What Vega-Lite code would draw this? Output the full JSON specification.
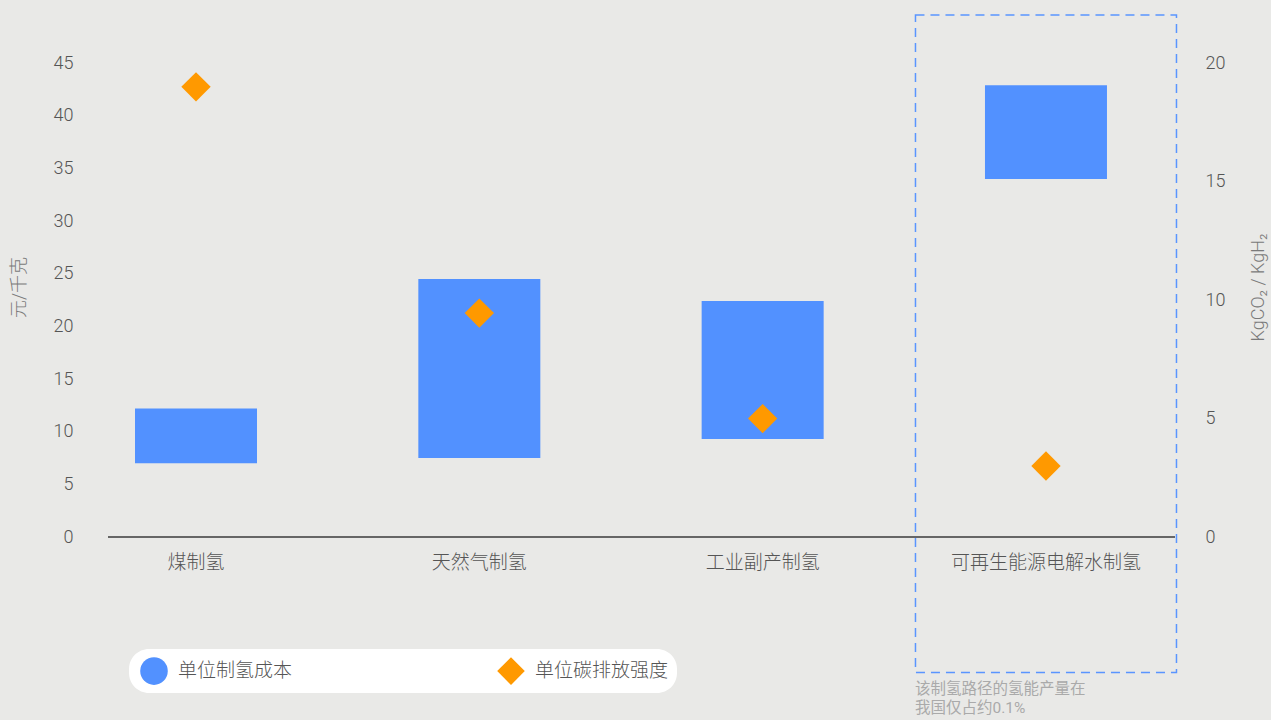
{
  "$schema": "https://vega.github.io/schema/vega-lite/v6.json",
  "width": 1067,
  "height": 705,
  "autosize": "none",
  "padding": {"left": 108, "top": 15, "right": 96, "bottom": 0},
  "background": "#e9e9e7",
  "config": {
    "view": {"stroke": null},
    "font": "Roboto, Noto Sans CJK SC",
    "axis": {"grid": false, "ticks": false, "domain": false},
    "legend": {
      "orient": "none",
      "legendX": 21,
      "legendY": 634,
      "direction": "horizontal",
      "fillColor": "#ffffff",
      "cornerRadius": 20,
      "padding": 8,
      "symbolSize": 760,
      "symbolOffset": 3,
      "symbolOpacity": 1,
      "symbolStrokeWidth": 0,
      "labelOffset": 10,
      "labelFontSize": 19,
      "labelFontWeight": 300,
      "labelColor": "#555555",
      "columnPadding": 201
    }
  },
  "datasets": {
    "cost": [
      {"category": "煤制氢", "low": 7.0, "high": 12.2, "series": "单位制氢成本"},
      {"category": "天然气制氢", "low": 7.5, "high": 24.5, "series": "单位制氢成本"},
      {"category": "工业副产制氢", "low": 9.3, "high": 22.4, "series": "单位制氢成本"},
      {"category": "可再生能源电解水制氢", "low": 34.0, "high": 42.9, "series": "单位制氢成本"}
    ],
    "carbon": [
      {"category": "煤制氢", "value": 19.0, "series": "单位碳排放强度"},
      {"category": "天然气制氢", "value": 9.45, "series": "单位碳排放强度"},
      {"category": "工业副产制氢", "value": 5.0, "series": "单位碳排放强度"},
      {"category": "可再生能源电解水制氢", "value": 3.0, "series": "单位碳排放强度"}
    ],
    "cats": [
      {"category": "煤制氢"},
      {"category": "天然气制氢"},
      {"category": "工业副产制氢"},
      {"category": "可再生能源电解水制氢"}
    ],
    "note": [
      {"category": "可再生能源电解水制氢", "text": ["该制氢路径的氢能产量在", "我国仅占约0.1%"]}
    ]
  },
  "layer": [
    {
      "data": {"name": "cats"},
      "mark": {"type": "rule", "color": "#666666", "strokeWidth": 1.5},
      "encoding": {
        "y": {
          "datum": 0,
          "type": "quantitative",
          "scale": {"domain": [-17.37, 49.56], "nice": false, "zero": false},
          "axis": {
            "orient": "left",
            "values": [0, 5, 10, 15, 20, 25, 30, 35, 40, 45],
            "labelFontSize": 18,
            "labelFontWeight": 300,
            "labelColor": "#555555",
            "labelPadding": 35,
            "title": "元/千克",
            "titleFontSize": 18,
            "titleFontWeight": 300,
            "titleColor": "#7a7a7a",
            "titleAngle": -90,
            "titleBaseline": "middle",
            "titleAlign": "center",
            "titleX": -89,
            "titleY": 272
          }
        }
      }
    },
    {
      "data": {"name": "note"},
      "mark": {"type": "bar", "size": 261, "fillOpacity": 0, "stroke": "#5a95ff", "strokeWidth": 1.5, "strokeDash": [9, 6]},
      "encoding": {
        "x": {
          "field": "category",
          "type": "nominal",
          "scale": {"type": "point", "domain": ["煤制氢", "天然气制氢", "工业副产制氢", "可再生能源电解水制氢"], "padding": 0.383, "align": 0.4055},
          "axis": null
        },
        "y": {"datum": -12.86, "type": "quantitative", "scale": {"domain": [-17.37, 49.56], "nice": false, "zero": false}, "axis": null},
        "y2": {"datum": 49.56}
      }
    },
    {
      "data": {"name": "cost"},
      "mark": {"type": "bar", "size": 122},
      "encoding": {
        "x": {"field": "category", "type": "nominal", "axis": null},
        "y": {"field": "low", "type": "quantitative", "scale": {"domain": [-17.37, 49.56], "nice": false, "zero": false}, "axis": null},
        "y2": {"field": "high"},
        "color": {
          "field": "series",
          "type": "nominal",
          "scale": {"domain": ["单位制氢成本", "单位碳排放强度"], "range": ["#5291ff", "#ff9900"]},
          "legend": {"title": null}
        }
      }
    },
    {
      "data": {"name": "cats"},
      "mark": {"type": "text", "fontSize": 19, "fontWeight": 300, "color": "#555555", "baseline": "middle", "align": "center"},
      "encoding": {
        "x": {"field": "category", "type": "nominal", "axis": null},
        "y": {"datum": -2.47, "type": "quantitative", "scale": {"domain": [-17.37, 49.56], "nice": false, "zero": false}, "axis": null},
        "text": {"field": "category"}
      }
    },
    {
      "data": {"name": "note"},
      "mark": {"type": "text", "fontSize": 15.5, "color": "#aaaaaa", "baseline": "top", "align": "left", "dx": -131, "lineHeight": 18.5},
      "encoding": {
        "x": {"field": "category", "type": "nominal", "axis": null},
        "y": {"datum": -13.8, "type": "quantitative", "scale": {"domain": [-17.37, 49.56], "nice": false, "zero": false}, "axis": null},
        "text": {"field": "text"}
      }
    },
    {
      "data": {"name": "carbon"},
      "mark": {"type": "point", "shape": "diamond", "filled": true, "size": 860, "opacity": 1},
      "encoding": {
        "x": {"field": "category", "type": "nominal", "axis": null},
        "y": {
          "field": "value",
          "type": "quantitative",
          "scale": {"domain": [-7.72, 22.03], "nice": false, "zero": false},
          "axis": {
            "orient": "right",
            "values": [0, 5, 10, 15, 20],
            "labelFontSize": 18,
            "labelFontWeight": 300,
            "labelColor": "#555555",
            "labelPadding": 30,
            "title": "KgCO₂ / KgH₂",
            "titleFontSize": 18,
            "titleFontWeight": 300,
            "titleColor": "#7a7a7a",
            "titleAngle": -90,
            "titleBaseline": "middle",
            "titleAlign": "center",
            "titleX": 83,
            "titleY": 272
          }
        },
        "color": {
          "field": "series",
          "type": "nominal",
          "scale": {"domain": ["单位制氢成本", "单位碳排放强度"], "range": ["#5291ff", "#ff9900"]},
          "legend": {"title": null}
        },
        "shape": {
          "field": "series",
          "type": "nominal",
          "scale": {"domain": ["单位制氢成本", "单位碳排放强度"], "range": ["circle", "diamond"]},
          "legend": {"title": null}
        }
      }
    }
  ],
  "resolve": {"scale": {"y": "independent"}}
}
